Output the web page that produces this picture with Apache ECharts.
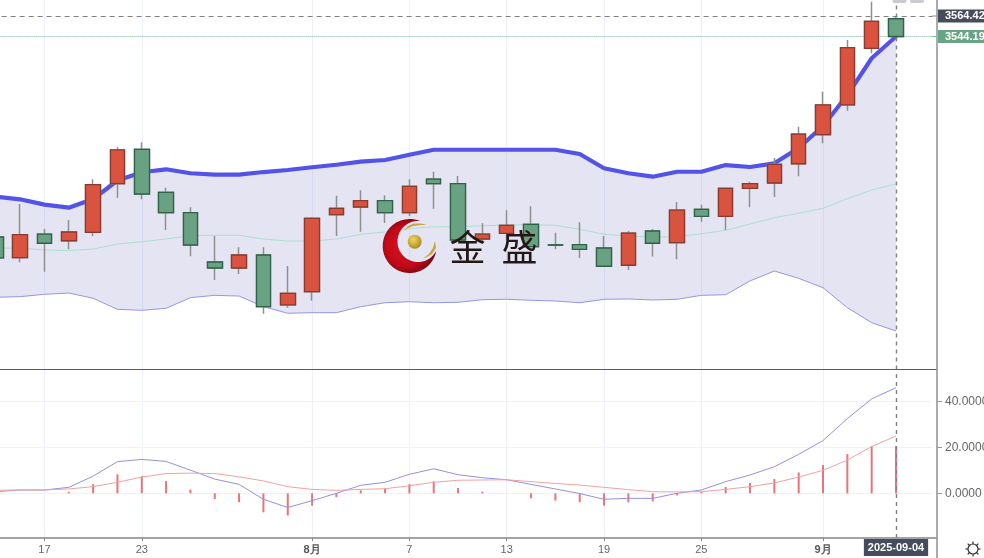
<!DOCTYPE html>
<html>
<head>
<meta charset="utf-8">
<style>html,body{margin:0;padding:0;background:#fff;overflow:hidden}#c{width:984px;height:558px}</style>
<script src="https://cdn.jsdelivr.net/npm/echarts@6/dist/echarts.min.js"></script>
</head>
<body>
<div id="c"></div>
<script>
const dates = ['2025-07-15','2025-07-16','2025-07-17','2025-07-18','2025-07-21','2025-07-22','2025-07-23','2025-07-24','2025-07-25','2025-07-28','2025-07-29','2025-07-30','2025-07-31','2025-08-01','2025-08-04','2025-08-05','2025-08-06','2025-08-07','2025-08-08','2025-08-11','2025-08-12','2025-08-13','2025-08-14','2025-08-15','2025-08-18','2025-08-19','2025-08-20','2025-08-21','2025-08-22','2025-08-25','2025-08-26','2025-08-27','2025-08-28','2025-08-29','2025-09-01','2025-09-02','2025-09-03','2025-09-04'];
const tickLabels = {'2025-07-17':'17','2025-07-23':'23','2025-08-01':'8月','2025-08-07':'7','2025-08-13':'13','2025-08-19':'19','2025-08-25':'25','2025-09-01':'9月'};
const opens  = [3346.3,3325.9,3349.2,3342.6,3350.9,3398.9,3432.8,3390.4,3370.3,3321.6,3315.7,3328.5,3279.2,3292.3,3368.3,3375.9,3382.1,3370.3,3403.5,3398.9,3344.3,3349.9,3358.8,3338.6,3338.7,3335.4,3318.4,3352.2,3340.7,3373.6,3366.7,3394.3,3399.6,3418.6,3447.3,3476.6,3532.5,3561.7];
const closes = [3325.6,3348.6,3340.1,3351.2,3397.9,3432.2,3388.7,3370.3,3338.4,3315.7,3328.5,3277.5,3290.7,3364.7,3374.6,3382.1,3370.3,3396.3,3398.9,3343.3,3349.2,3357.8,3336.7,3338.2,3334.1,3317.4,3350.2,3340.1,3372.9,3366.7,3394.3,3398.9,3418.0,3447.9,3476.6,3533.1,3559.2,3544.19];
const highs  = [3346.3,3378.9,3354.2,3363.1,3403.2,3434.8,3439.7,3394.9,3375.6,3347.3,3336.1,3336.1,3317.7,3365.7,3387.0,3392.4,3387.4,3403.2,3410.7,3406.5,3359.8,3372.6,3376.6,3350.5,3360.8,3347.3,3352.2,3354.2,3380.8,3378.2,3394.6,3400.9,3424.3,3455.2,3489.7,3540.7,3578.5,3564.4];
const lows   = [3325.6,3321.3,3312.0,3334.1,3347.3,3385.1,3383.5,3353.2,3327.2,3303.8,3309.8,3270.6,3276.5,3283.4,3347.3,3351.5,3360.1,3367.0,3374.2,3343.3,3340.4,3343.3,3336.7,3334.1,3325.6,3317.4,3313.7,3327.0,3324.3,3361.4,3353.2,3375.6,3385.8,3406.2,3438.8,3470.9,3527.6,3544.19];
const bollUpper = [3386.0,3383.5,3378.2,3375.2,3383.8,3402.0,3410.2,3413.1,3409.2,3407.8,3407.8,3410.4,3412.4,3415.1,3417.6,3420.6,3422.3,3427.5,3432.4,3432.4,3432.4,3432.4,3432.4,3432.4,3428.2,3414.1,3409.2,3405.8,3410.7,3410.7,3417.3,3415.4,3419.0,3434.1,3455.8,3486.4,3522.7,3544.2];
const bollMid   = [3335.4,3335.1,3333.5,3332.8,3334.4,3339.4,3341.6,3344.3,3347.6,3348.0,3348.0,3344.3,3342.3,3342.3,3344.3,3349.0,3351.2,3354.5,3356.4,3356.4,3357.4,3358.1,3358.4,3357.8,3353.9,3349.0,3347.3,3346.0,3346.6,3349.5,3352.9,3359.1,3365.3,3369.7,3374.6,3384.1,3392.7,3398.6];
const bollLower = [3286.8,3287.4,3289.7,3291.0,3285.8,3274.9,3273.9,3275.9,3286.4,3288.7,3288.0,3277.5,3271.0,3271.6,3271.6,3277.5,3281.4,3282.4,3281.4,3281.8,3284.4,3284.8,3283.8,3283.1,3281.4,3284.8,3285.1,3284.1,3284.8,3288.7,3289.3,3302.9,3312.7,3305.5,3296.2,3276.5,3261.7,3253.5];
const dif  = [0.7,1.45,1.45,2.6,7.5,13.8,14.8,13.9,10.1,6.2,3.9,-2.6,-6.2,-3.2,0,3.5,4.8,8.3,10.7,8.1,6.8,5.9,3.9,1.9,-0.1,-2.6,-2.2,-2.2,0,1.45,5.1,8,11.6,17,23,32.6,41.2,46.1];
const dea  = [1.3,1.45,1.45,1.9,2.9,4.8,7.1,8.6,8.8,8.6,7.2,5.4,2.9,1.7,1.3,1.7,2,3.3,4.8,5.7,5.8,5.9,5.1,4.3,3.6,2.6,1.6,0.7,0.6,0.7,1.7,2.9,4.5,7.1,10,14.5,20.4,25];
const hist = [null,null,null,0.7,4,8.3,7.4,5.4,1.6,-2.5,-3.9,-8.3,-9.7,-5.4,-1.7,1.3,2.2,4,5.2,2.3,0.7,0,-2.2,-3.2,-3.9,-5.4,-3.9,-3.5,-0.9,0.7,2.8,4.5,6.2,9.1,12.3,17.1,20.6,20.6];
const macdTicks = [0,20,40];
const crossPrice = 3564.42;
const lastPrice = 3544.19;
const lastDate = '2025-09-04';
const brand = ['金','盛'];

const cats = dates.concat(['']);
const isTick = (i, v) => tickLabels[v] !== undefined;
const ohlc = dates.map((d,i)=>[opens[i],closes[i],lows[i],highs[i]]);
const bodies = dates.map((d,i)=>[opens[i],closes[i],Math.min(opens[i],closes[i]),Math.max(opens[i],closes[i])]);
const font = '"Liberation Sans",Arial,sans-serif';
const gridLine = '#edf2f8';
const noSym = {symbol:'none',silent:true};

function arc(cx,cy,r,a0,a1,n){const p=[];for(let k=0;k<=n;k++){const t=(a0+(a1-a0)*k/n)*Math.PI/180;p.push([cx+r*Math.cos(t),cy+r*Math.sin(t)]);}return p;}
const crescent = arc(409.7,246,27,-67.6,-347.4,60).concat(arc(418,241.5,20.5,29.6,275.6,50));

const chart = echarts.init(document.getElementById('c'),null,{renderer:'canvas'});
const spokes = [];
for (let a=0;a<8;a++){const t=a*Math.PI/4;spokes.push({type:'line',silent:true,z:60,shape:{x1:973+5*Math.cos(t),y1:549+5*Math.sin(t),x2:973+7.5*Math.cos(t),y2:549+7.5*Math.sin(t)},style:{stroke:'#333',lineWidth:1.2}});}
chart.setOption({
  animation:false,
  backgroundColor:'#ffffff',
  textStyle:{fontFamily:font},
  grid:[
    {left:-16.37,width:948.87,top:0,height:369.5,outerBoundsMode:'none'},
    {left:-16.37,width:948.87,top:370,height:168,outerBoundsMode:'none'}
  ],
  xAxis:[
    {type:'category',gridIndex:0,data:cats,boundaryGap:true,axisLine:{show:false},axisTick:{show:false},axisLabel:{show:false},
     splitLine:{show:true,interval:isTick,alignWithLabel:true,lineStyle:{color:gridLine,width:1}}},
    {type:'category',gridIndex:1,data:cats,boundaryGap:true,axisLine:{show:false,onZero:false},
     axisTick:{show:true,interval:isTick,alignWithLabel:true,length:3,lineStyle:{color:'#888'}},
     axisLabel:{show:true,interval:isTick,margin:6,fontSize:11,color:'#666',fontFamily:font,
       formatter:v=>{const t=tickLabels[v];if(!t)return '';return t.indexOf('月')>=0?'{b|'+t+'}':t;},
       rich:{b:{fontWeight:'bold',fontSize:11,color:'#555',fontFamily:font}}},
     splitLine:{show:true,interval:isTick,alignWithLabel:true,lineStyle:{color:gridLine,width:1}}}
  ],
  yAxis:[
    {type:'value',gridIndex:0,position:'right',min:3215.5,max:3580.2,axisLine:{show:false},axisTick:{show:false},axisLabel:{show:false},splitLine:{show:false}},
    {type:'value',gridIndex:1,position:'right',offset:4.5,min:-19.5,max:53.8,
     axisLine:{show:false},
     axisTick:{show:true,length:5,customValues:macdTicks,lineStyle:{color:'#999'}},
     axisLabel:{show:true,customValues:macdTicks,margin:8,fontSize:12,color:'#666',fontFamily:font,formatter:v=>Number(v).toFixed(4)},
     splitLine:{show:true,lineStyle:{color:'#eef3f9',width:1}}}
  ],
  series:[
    {type:'line',name:'lowerBase',xAxisIndex:0,yAxisIndex:0,data:bollLower,stack:'band',...noSym,lineStyle:{width:0,opacity:0},z:2},
    {type:'line',name:'band',xAxisIndex:0,yAxisIndex:0,data:bollUpper.map((u,i)=>u-bollLower[i]),stack:'band',...noSym,lineStyle:{width:0,opacity:0},areaStyle:{color:'#5a5ab4',opacity:0.16},z:2},
    {type:'line',name:'BOLL LOWER',xAxisIndex:0,yAxisIndex:0,data:bollLower,...noSym,lineStyle:{color:'#9696e6',width:1},z:3},
    {type:'line',name:'BOLL MID',xAxisIndex:0,yAxisIndex:0,data:bollMid,...noSym,lineStyle:{color:'#aee0cf',width:1},z:3},
    {type:'line',name:'BOLL UPPER',xAxisIndex:0,yAxisIndex:0,data:bollUpper,...noSym,lineStyle:{color:'#5353e8',width:4.2,cap:'round',join:'round'},z:3,
     markLine:{silent:true,symbol:'none',animation:false,precision:2,
       data:[
         {yAxis:crossPrice,lineStyle:{color:'#808086',type:[5,4],width:1.1},
          label:{show:true,position:'end',distance:5.5,formatter:crossPrice.toFixed(2),backgroundColor:'#464c5c',color:'#fff',fontWeight:'bold',fontSize:11,fontFamily:font,padding:[1,5,1,7],align:'left'}},
         {yAxis:lastPrice,lineStyle:{color:'#7cb79a',type:[1,1],width:1},
          label:{show:true,position:'end',distance:5.5,formatter:lastPrice.toFixed(2),backgroundColor:'#69a584',color:'#fff',fontWeight:'bold',fontSize:11,fontFamily:font,padding:[1,5,1,7],align:'left'}},
         {xAxis:lastDate,lineStyle:{color:'#808086',type:[4,4],width:1.4},label:{show:false}}
       ]}},
    {type:'candlestick',name:'wicks',xAxisIndex:0,yAxisIndex:0,data:ohlc,barWidth:15,silent:true,z:4,
     itemStyle:{color:'#d9533f',color0:'#68a283',borderColor:'#8f8f8f',borderColor0:'#8f8f8f',borderWidth:1.5}},
    {type:'candlestick',name:'bodies',xAxisIndex:0,yAxisIndex:0,data:bodies,barWidth:15,silent:true,z:5,
     itemStyle:{color:'#d9533f',color0:'#68a283',borderColor:'#8a3b30',borderColor0:'#2f6349',borderWidth:1.3}},
    {type:'bar',name:'MACD',xAxisIndex:1,yAxisIndex:1,data:hist,barWidth:2,silent:true,itemStyle:{color:'#e8747a'},z:3,
     markLine:{silent:true,symbol:'none',animation:false,
       data:[{xAxis:lastDate,lineStyle:{color:'#808086',type:[4,4],width:1.4},
         label:{show:true,position:'start',distance:1,formatter:lastDate,backgroundColor:'#464c5c',color:'#fff',fontWeight:'bold',fontSize:11,fontFamily:font,padding:[3,4,3,4]}}]}},
    {type:'line',name:'DIF',xAxisIndex:1,yAxisIndex:1,data:dif,...noSym,lineStyle:{color:'#9191e0',width:1},z:4},
    {type:'line',name:'DEA',xAxisIndex:1,yAxisIndex:1,data:dea,...noSym,lineStyle:{color:'#f0a2a2',width:1},z:4}
  ],
  graphic:[
    {type:'line',silent:true,z:50,shape:{x1:0,y1:369.5,x2:937,y2:369.5},style:{stroke:'#5a5a60',lineWidth:1.2}},
    {type:'line',silent:true,z:50,shape:{x1:0,y1:538,x2:937,y2:538},style:{stroke:'#85858a',lineWidth:1.6}},
    {type:'line',silent:true,z:50,shape:{x1:937,y1:0,x2:937,y2:558},style:{stroke:'#97979c',lineWidth:1.6}},
    {type:'line',silent:true,z:50,shape:{x1:932,y1:16,x2:937,y2:16},style:{stroke:'#8a8a90',lineWidth:1}},
    {type:'line',silent:true,z:50,shape:{x1:932,y1:36.5,x2:937,y2:36.5},style:{stroke:'#7cb79a',lineWidth:1}},
    {type:'rect',silent:true,z:50,shape:{x:892.5,y:-4,width:14,height:7,r:2},style:{fill:'#c9cbd3'}},
    {type:'rect',silent:true,z:50,shape:{x:910,y:-4,width:14,height:7,r:2},style:{fill:'#c9cbd3'}},
    {type:'circle',silent:true,z:60,shape:{cx:973,cy:549,r:5},style:{fill:'#fff',stroke:'#333',lineWidth:1.2}},
    ...spokes,
    {type:'polygon',silent:true,z:40,shape:{points:crescent},
     style:{fill:new echarts.graphic.RadialGradient(0.45,0.5,0.55,[{offset:0,color:'#e3101f'},{offset:0.7,color:'#c00a18'},{offset:1,color:'#7c0410'}])}},
    {type:'circle',silent:true,z:41,shape:{cx:414.7,cy:241.7,r:7},
     style:{fill:new echarts.graphic.RadialGradient(0.4,0.35,0.7,[{offset:0,color:'#f1d75e'},{offset:1,color:'#a8871f'}])}},
    {type:'polygon',silent:true,z:41,shape:{points:[[403.5,231],[408,226],[414,223.5],[421,223.5],[427,225],[420,225],[413,226],[408,228]]},style:{fill:'#c6a63c'}},
    {type:'polygon',silent:true,z:41,shape:{points:[[423,258.5],[429,254],[433,248],[435,241],[436,248],[432,254],[427,257]]},style:{fill:'#c6a63c'}},
    {type:'text',silent:true,z:42,style:{x:449.5,y:247,text:brand[0],font:'36px "Noto Sans CJK SC"',fill:'#231815',verticalAlign:'middle'}},
    {type:'text',silent:true,z:42,style:{x:501.5,y:247,text:brand[1],font:'36px "Noto Sans CJK SC"',fill:'#231815',verticalAlign:'middle'}}
  ]
});
</script>
</body>
</html>
